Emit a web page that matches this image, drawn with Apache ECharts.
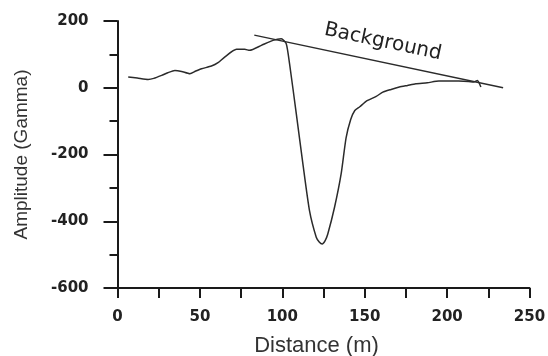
<!DOCTYPE html>
<html>
<head>
<meta charset="utf-8">
<script src="https://cdn.jsdelivr.net/npm/echarts@6/dist/echarts.min.js"></script>
<style>
    html, body { margin: 0; padding: 0; background: #fff; }
    #chart { width: 548px; height: 356px; }
</style>
</head>
<body>
<div id="chart"></div>
<script>
// profile
var distance = [6.5, 12, 18.6, 22, 26.8, 30.5, 34.8, 38.9, 43.9, 47.5, 51, 57, 61, 65, 72.2, 77.2, 80.2, 87.3, 94.3, 99.4,
    102.4, 104.4, 108.5, 112.5, 116.5, 120.6, 122.4, 124.2, 126, 127.6, 131.7, 135.7, 138.7, 141.5, 144, 147, 151, 157, 161,
    166, 171, 176, 181, 188, 195, 200, 207, 213, 216, 218.4, 220.5];
var amplitude = [32, 29, 25, 28, 37, 45, 52, 49, 42, 50, 57, 65, 75, 92, 115, 115, 112, 127, 142, 147,
    132, 72, -78, -228, -368, -448, -462, -468, -458, -438, -358, -258, -150, -95, -68, -57, -40, -26, -13,
    -5, 2, 7, 12, 15, 20, 20, 20, 19, 17, 22, 2];
var backgroundStart = [83, 158];
var backgroundEnd = [234, 0];
var xTicks = [0, 50, 100, 150, 200, 250];
var yTicks = [-600, -400, -200, 0, 200];

var profile = [];
for (var i = 0; i < distance.length; i++) {
    profile.push([distance[i], amplitude[i]]);
}

var axisColor = '#1a1a1a';
var labelFont = {
    color: '#222',
    fontFamily: 'DejaVu Sans',
    fontWeight: 'bold',
    fontSize: 15
};

var myChart = echarts.init(document.getElementById('chart'));
var option = {
    animation: false,
    backgroundColor: '#fff',
    grid: {
        left: 117.5,
        right: 18.5,
        top: 21,
        bottom: 68,
        outerBoundsMode: 'none'
    },
    xAxis: {
        type: 'value',
        min: xTicks[0],
        max: xTicks[xTicks.length - 1],
        interval: 50,
        name: 'Distance (m)',
        nameLocation: 'middle',
        nameGap: 47,
        nameTextStyle: {
            color: '#333',
            fontFamily: 'Liberation Sans',
            fontSize: 22,
            padding: [0, 14, 0, 0]
        },
        axisLine: { onZero: false, lineStyle: { color: axisColor, width: 2 } },
        axisTick: { length: 10, lineStyle: { color: axisColor, width: 2 } },
        minorTick: { show: true, splitNumber: 2, length: 10, lineStyle: { color: axisColor, width: 2 } },
        axisLabel: Object.assign({ margin: 22 }, labelFont),
        splitLine: { show: false }
    },
    yAxis: {
        type: 'value',
        min: yTicks[0],
        max: yTicks[yTicks.length - 1],
        interval: 200,
        name: 'Amplitude (Gamma)',
        nameLocation: 'middle',
        nameGap: 86,
        nameTextStyle: {
            color: '#333',
            fontFamily: 'Liberation Sans',
            fontSize: 19
        },
        axisLine: { lineStyle: { color: axisColor, width: 2 } },
        axisTick: { length: 14, lineStyle: { color: axisColor, width: 2 } },
        minorTick: { show: true, splitNumber: 2, length: 8, lineStyle: { color: axisColor, width: 2 } },
        axisLabel: Object.assign({ margin: 29 }, labelFont),
        splitLine: { show: false }
    },
    series: [
        {
            type: 'line',
            data: profile,
            showSymbol: false,
            smooth: 0.2,
            lineStyle: { color: '#2b2b2b', width: 1.5 },
            markLine: {
                silent: true,
                symbol: 'none',
                lineStyle: { color: '#2b2b2b', width: 1.3, type: 'solid' },
                label: {
                    show: true,
                    position: 'insideMiddleTop',
                    formatter: 'Background',
                    color: '#222',
                    fontFamily: 'DejaVu Sans',
                    fontSize: 20,
                    distance: 10
                },
                data: [[{ coord: backgroundStart }, { coord: backgroundEnd }]]
            }
        }
    ]
};
myChart.setOption(option);
</script>
</body>
</html>
